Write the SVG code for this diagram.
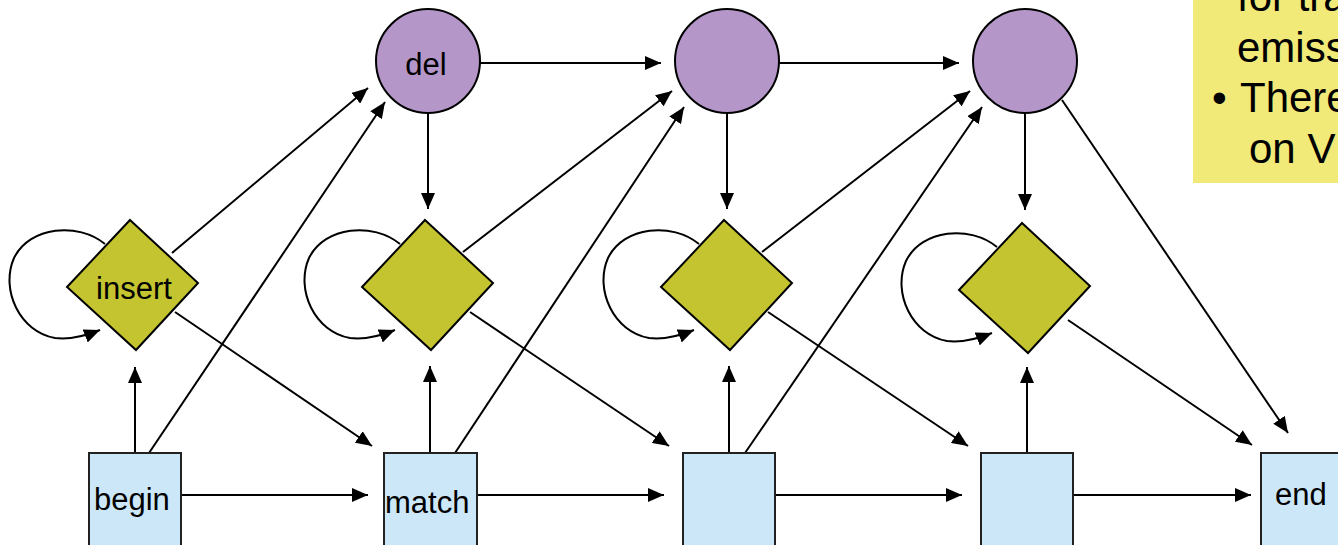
<svg xmlns="http://www.w3.org/2000/svg" width="1338" height="545" viewBox="0 0 1338 545">
<style>
.lbl{font-family:"Liberation Sans",Arial,sans-serif;font-size:31px;fill:#000}
.note{font-family:"Liberation Sans",Arial,sans-serif;font-size:42px;fill:#000}
.del{fill:#B596C8;stroke:#000;stroke-width:2}
.ins{fill:#C4C431;stroke:#000;stroke-width:2}
.mat{fill:#CCE8F8;stroke:#222;stroke-width:2}
.c line,.c path{stroke:#000;stroke-width:2;fill:none;marker-end:url(#ah)}
</style>
<defs>
<marker id="ah" markerUnits="userSpaceOnUse" markerWidth="16" markerHeight="14" refX="16" refY="7" orient="auto">
<path d="M0,0 L16,7 L0,14 z" fill="#000"/>
</marker>
</defs>
<rect x="1193" y="-2" width="147" height="185" fill="#F1EA78"/>
<g id="note">
<text class="note" x="1237" y="11">for tra</text>
<text class="note" x="1237" y="62">emiss</text>
<text class="note" x="1212" y="112">•</text>
<text class="note" x="1240" y="112">There</text>
<text class="note" x="1249" y="163">on V</text>
</g>
<g id="connectors" class="c">
<line x1="135" y1="453" x2="135" y2="367"/>
<line x1="149" y1="453" x2="385" y2="102"/>
<line x1="172" y1="253" x2="368" y2="88"/>
<line x1="175" y1="312" x2="372" y2="446"/>
<line x1="181" y1="495" x2="368" y2="495"/>
<line x1="428" y1="113" x2="428" y2="209"/>
<line x1="480" y1="63" x2="661" y2="63"/>
<line x1="463" y1="252" x2="672" y2="91"/>
<line x1="430" y1="453" x2="430" y2="366"/>
<line x1="455" y1="453" x2="684" y2="107"/>
<line x1="470" y1="312" x2="669" y2="446"/>
<line x1="477" y1="495" x2="664" y2="495"/>
<line x1="727" y1="113" x2="727" y2="209"/>
<line x1="779" y1="63" x2="959" y2="63"/>
<line x1="762" y1="252" x2="970" y2="91"/>
<line x1="729" y1="453" x2="729" y2="366"/>
<line x1="745" y1="453" x2="982" y2="107"/>
<line x1="768" y1="312" x2="968" y2="446"/>
<line x1="775" y1="495" x2="962" y2="495"/>
<line x1="1025" y1="113" x2="1025" y2="210"/>
<line x1="1062" y1="100" x2="1288" y2="433"/>
<line x1="1027" y1="453" x2="1027" y2="367"/>
<line x1="1068" y1="320" x2="1252" y2="445"/>
<line x1="1073" y1="495" x2="1251" y2="495"/>
<path d="M105,244 C78,222 30,226 14,258 C0,290 20,332 55,338 C70,340 85,336 100,330"/>
<path d="M400,244 C373,222 325,226 309,258 C295,290 315,332 350,338 C365,340 380,336 395,330"/>
<path d="M699,244 C672,222 624,226 608,258 C594,290 614,332 649,338 C664,340 679,336 694,330"/>
<path d="M997,247 C970,225 922,229 906,261 C892,293 912,335 947,341 C962,343 977,339 992,333"/>
</g>
<g id="del1"><circle class="del" cx="428" cy="61" r="52"/><text class="lbl" x="426" y="75" text-anchor="middle">del</text></g>
<g id="del2"><circle class="del" cx="727" cy="61" r="52"/></g>
<g id="del3"><circle class="del" cx="1025" cy="61" r="52"/></g>
<g id="insert1"><polygon class="ins" points="130,220 198,283 136,350 67,287"/><text class="lbl" x="134" y="299" text-anchor="middle">insert</text></g>
<g id="insert2"><polygon class="ins" points="425,220 493,283 431,350 362,287"/></g>
<g id="insert3"><polygon class="ins" points="724,220 792,283 730,350 661,287"/></g>
<g id="insert4"><polygon class="ins" points="1022,223 1090,286 1028,353 959,290"/></g>
<g id="begin"><rect class="mat" x="89" y="453" width="92" height="93"/><text class="lbl" x="94" y="510">begin</text></g>
<g id="match1"><rect class="mat" x="384" y="453" width="93" height="93"/><text class="lbl" x="385" y="513">match</text></g>
<g id="match2"><rect class="mat" x="683" y="453" width="92" height="93"/></g>
<g id="match3"><rect class="mat" x="981" y="453" width="92" height="93"/></g>
<g id="end"><rect class="mat" x="1261" y="453" width="92" height="93"/><text class="lbl" x="1275" y="505">end</text></g>
</svg>
